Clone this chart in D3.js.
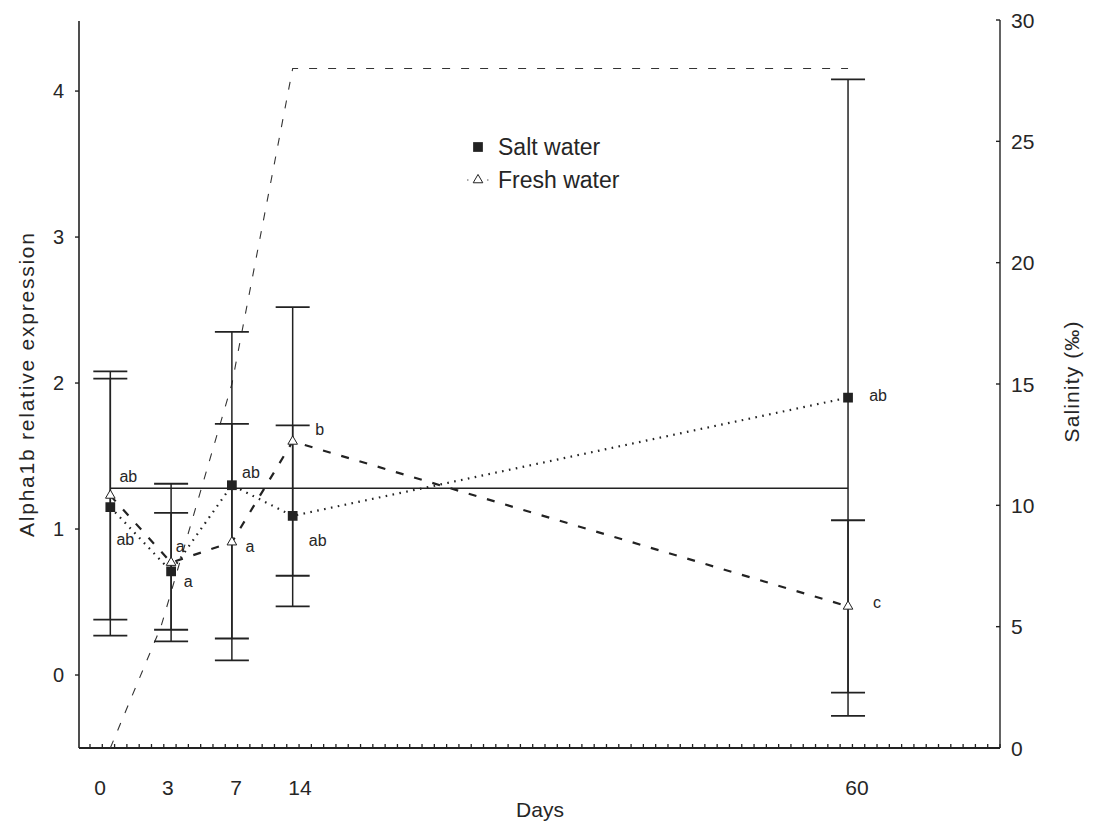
<!DOCTYPE html>
<meta charset="utf-8">
<head>
    <script src="https://d3js.org/d3.v7.min.js"></script>
    <style>
        body { margin: 0; background: #fff; }
        text { font-family: 'Liberation Sans', Arial, sans-serif; fill: #262626; }
    </style>
</head>
<body>
    <div id="chart"></div>
    <script>

    // data
    var days = [0, 3, 7, 14, 60]
    var dayLabels = ["0", "3", "7", "14", "60"]
    var saltMean = [1.15, 0.71, 1.30, 1.09, 1.90]
    var saltErr = [0.88, 0.40, 1.05, 0.62, 2.18]
    var freshMean = [1.23, 0.77, 0.91, 1.60, 0.47]
    var freshErr = [0.85, 0.54, 0.81, 0.92, 0.59]
    var saltLetters = ["ab", "a", "ab", "ab", "ab"]
    var freshLetters = ["ab", "a", "a", "b", "c"]
    var controlLevel = 1.28
    var salinityDays = [0, 2.5, 7, 14, 60]
    var salinity = [0, 5, 15, 28, 28]
    var leftTicks = [0, 1, 2, 3, 4]
    var rightTicks = [0, 5, 10, 15, 20, 25, 30]

    var width = 1096,
        height = 822
    var margin = {left: 79, right: 96, top: 20, bottom: 74}
    var W = width - margin.left - margin.right
    var H = height - margin.top - margin.bottom

    var svg = d3.select("#chart")
        .append("svg")
        .attr("width", width)
        .attr("height", height)
        .style("background", "#fff")

    var g = svg.append("g")
        .attr("transform", "translate(" + margin.left + "," + margin.top + ")")

    // x is not linear in the original figure: each sampling day gets its own stop
    var x = d3.scaleLinear()
        .domain(days)
        .range([0.034, 0.100, 0.166, 0.232, 0.835].map(function(f) { return f * W }))
    // tick labels sit slightly off the data columns
    var xLab = d3.scaleLinear()
        .domain(days)
        .range([0.0228, 0.0966, 0.1705, 0.240, 0.8447].map(function(f) { return f * W }))

    var y = d3.scaleLinear().domain([-0.5, 4.48]).range([H, 1])
    var y2 = d3.scaleLinear().domain([0, 30]).range([H, 0])

    var ink = "#222"

    // axes lines
    g.append("line").attr("x1", 0).attr("x2", 0).attr("y1", y(4.48)).attr("y2", H)
        .attr("stroke", ink).attr("stroke-width", 1.6)
    g.append("line").attr("x1", W).attr("x2", W).attr("y1", y2(30)).attr("y2", H)
        .attr("stroke", ink).attr("stroke-width", 1.4)
    g.append("line").attr("x1", 0).attr("x2", W).attr("y1", H).attr("y2", H)
        .attr("stroke", ink).attr("stroke-width", 2)

    // left ticks
    g.selectAll(".lt").data(leftTicks).enter().append("line")
        .attr("x1", -4).attr("x2", 0)
        .attr("y1", function(d) { return y(d) }).attr("y2", function(d) { return y(d) })
        .attr("stroke", ink).attr("stroke-width", 1.4)
    g.selectAll(".ll").data(leftTicks).enter().append("text")
        .attr("x", -15).attr("y", function(d) { return y(d) })
        .attr("dy", "0.36em")
        .attr("text-anchor", "end")
        .style("font-size", "20px")
        .text(function(d) { return d })

    // right ticks
    g.selectAll(".rt").data(rightTicks).enter().append("line")
        .attr("x1", W - 4).attr("x2", W)
        .attr("y1", function(d) { return y2(d) }).attr("y2", function(d) { return y2(d) })
        .attr("stroke", ink).attr("stroke-width", 1.4)
    g.selectAll(".rl").data(rightTicks).enter().append("text")
        .attr("x", W + 11).attr("y", function(d) { return y2(d) })
        .attr("dy", "0.36em")
        .style("font-size", "21px")
        .text(function(d) { return d })

    // small ticks along the bottom
    var nMinor = 75
    var minor = d3.scaleLinear().domain([0, nMinor - 1]).range([11, W])
    g.selectAll(".mt").data(d3.range(nMinor)).enter().append("line")
        .attr("x1", function(d) { return minor(d) }).attr("x2", function(d) { return minor(d) })
        .attr("y1", H).attr("y2", H - 4)
        .attr("stroke", ink).attr("stroke-width", 1.3)

    // x labels
    g.selectAll(".xl").data(days).enter().append("text")
        .attr("x", function(d) { return xLab(d) })
        .attr("y", H + 47)
        .attr("text-anchor", "middle")
        .style("font-size", "21px")
        .text(function(d, i) { return dayLabels[i] })

    // axis titles
    svg.append("text")
        .attr("x", 540).attr("y", 817)
        .attr("text-anchor", "middle")
        .style("font-size", "21px")
        .text("Days")
    svg.append("text")
        .attr("transform", "translate(34,385) rotate(-90)")
        .attr("text-anchor", "middle")
        .attr("textLength", 304).attr("lengthAdjust", "spacing")
        .style("font-size", "21px")
        .text("Alpha1b relative expression")
    svg.append("text")
        .attr("transform", "translate(1079,382) rotate(-90)")
        .attr("text-anchor", "middle")
        .attr("textLength", 121).attr("lengthAdjust", "spacing")
        .style("font-size", "21px")
        .text("Salinity (‰)")

    // salinity profile (right axis)
    var salLine = d3.line()
        .x(function(d, i) { return x(salinityDays[i]) })
        .y(function(d) { return y2(d) })
    g.append("path")
        .attr("d", salLine(salinity))
        .attr("fill", "none")
        .attr("stroke", "#333")
        .attr("stroke-width", 1.1)
        .attr("stroke-dasharray", "8,11")

    // control level
    g.append("line")
        .attr("x1", x(days[0])).attr("x2", x(days[days.length - 1]))
        .attr("y1", y(controlLevel)).attr("y2", y(controlLevel))
        .attr("stroke", ink).attr("stroke-width", 1.5)

    // error bars
    var capW = 17
    function errorBars(mean, err) {
        var eb = g.append("g")
        eb.selectAll("line.v").data(days).enter().append("line")
            .attr("x1", function(d) { return x(d) }).attr("x2", function(d) { return x(d) })
            .attr("y1", function(d, i) { return y(mean[i] + err[i]) })
            .attr("y2", function(d, i) { return y(mean[i] - err[i]) })
            .attr("stroke", ink).attr("stroke-width", 1.5)
        ;[1, -1].forEach(function(s) {
            eb.selectAll(null).data(days).enter().append("line")
                .attr("x1", function(d) { return x(d) - capW }).attr("x2", function(d) { return x(d) + capW })
                .attr("y1", function(d, i) { return y(mean[i] + s * err[i]) })
                .attr("y2", function(d, i) { return y(mean[i] + s * err[i]) })
                .attr("stroke", ink).attr("stroke-width", 1.8)
        })
    }
    errorBars(saltMean, saltErr)
    errorBars(freshMean, freshErr)

    // series lines
    var line = d3.line()
        .x(function(d, i) { return x(days[i]) })
        .y(function(d) { return y(d) })
    g.append("path").attr("d", line(saltMean))
        .attr("fill", "none").attr("stroke", ink)
        .attr("stroke-width", 2.2).attr("stroke-dasharray", "1.6,5.4")
        .attr("stroke-linecap", "butt")
    g.append("path").attr("d", line(freshMean))
        .attr("fill", "none").attr("stroke", ink)
        .attr("stroke-width", 2.2).attr("stroke-dasharray", "8,11")

    // markers
    var sq = d3.symbol().type(d3.symbolSquare).size(95)
    var tri = d3.symbol().type(d3.symbolTriangle).size(40)
    g.selectAll(".sq").data(saltMean).enter().append("path")
        .attr("d", sq)
        .attr("transform", function(d, i) { return "translate(" + x(days[i]) + "," + y(d) + ")" })
        .attr("fill", ink)
    g.selectAll(".tri").data(freshMean).enter().append("path")
        .attr("d", tri)
        .attr("transform", function(d, i) { return "translate(" + x(days[i]) + "," + y(d) + ")" })
        .attr("fill", "#fff").attr("stroke", ink).attr("stroke-width", 1)

    // significance letters, offsets in px from each point
    var saltOff = [[15, 32], [17, 10], [19, -13], [25, 25], [30, -2]]
    var freshOff = [[18, -19], [9, -16], [18, 4], [27, -12], [29, -4]]
    function letters(mean, lab, off) {
        g.selectAll(null).data(mean).enter().append("text")
            .attr("x", function(d, i) { return x(days[i]) + off[i][0] })
            .attr("y", function(d, i) { return y(d) + off[i][1] })
            .attr("dy", "0.35em")
            .attr("text-anchor", "middle")
            .style("font-size", "16px")
            .text(function(d, i) { return lab[i] })
    }
    letters(saltMean, saltLetters, saltOff)
    letters(freshMean, freshLetters, freshOff)

    // legend
    var lg = svg.append("g").attr("transform", "translate(478,147)")
    lg.append("path").attr("d", sq).attr("fill", ink)
    lg.append("text").attr("x", 20).attr("y", 0).attr("dy", "0.36em")
        .style("font-size", "23px").text("Salt water")
    lg.append("line").attr("x1", -11).attr("x2", 12).attr("y1", 33).attr("y2", 33)
        .attr("stroke", "#555").attr("stroke-width", 1).attr("stroke-dasharray", "1.5,8.5")
    lg.append("path").attr("d", tri).attr("transform", "translate(0,33)")
        .attr("fill", "#fff").attr("stroke", ink).attr("stroke-width", 1)
    lg.append("text").attr("x", 20).attr("y", 33).attr("dy", "0.36em")
        .style("font-size", "23px").text("Fresh water")

    </script>
</body>
